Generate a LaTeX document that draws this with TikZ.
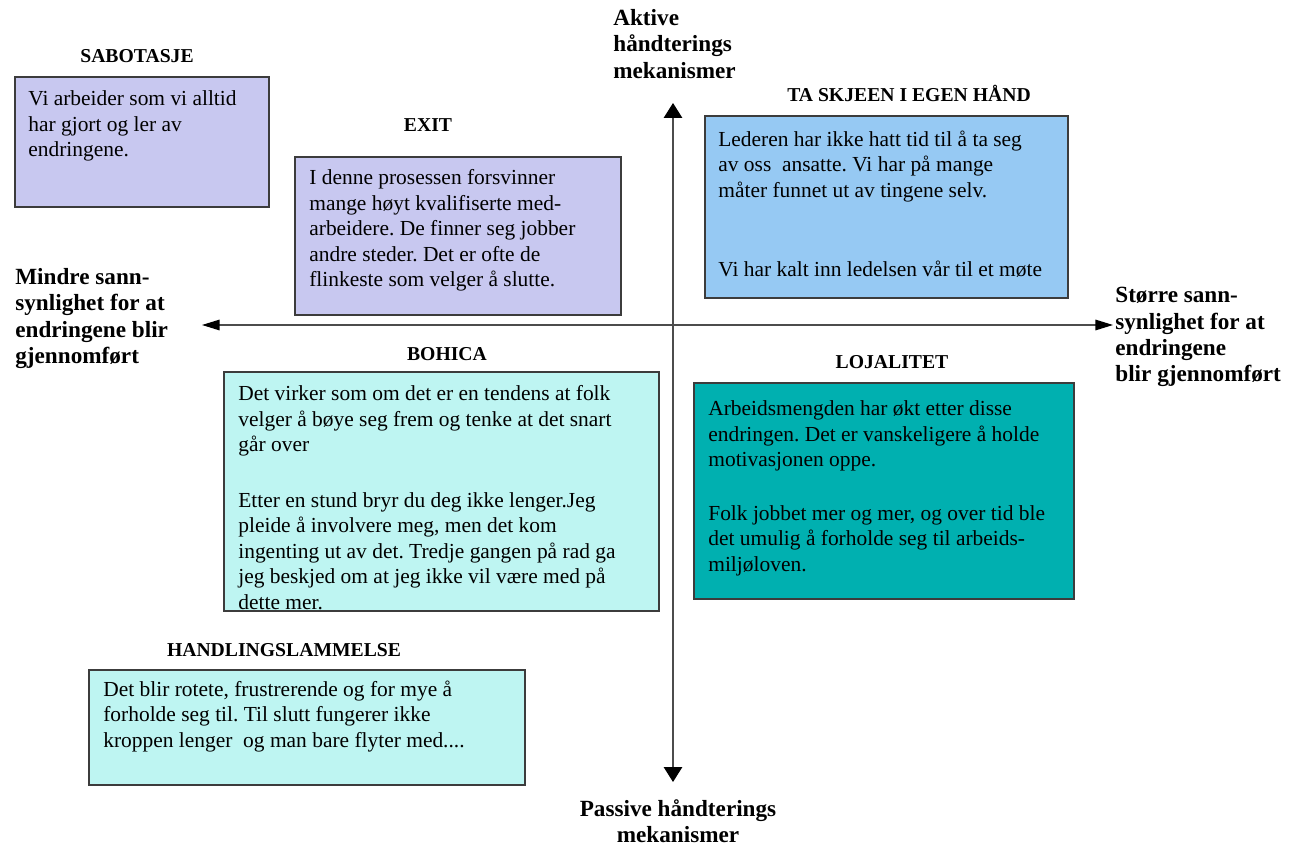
\documentclass[tikz,border=0pt]{standalone}
\usepackage{fontspec}
\setmainfont{Liberation Serif}
\usetikzlibrary{arrows.meta,positioning}

\definecolor{lavendel}{RGB}{200,200,240}
\definecolor{himmel}{RGB}{150,201,243}
\definecolor{lysturkis}{RGB}{190,245,242}
\definecolor{turkis}{RGB}{0,176,176}
\definecolor{ramme}{RGB}{60,60,60}

\frenchspacing

\begin{document}
\begin{tikzpicture}[x=0.02cm,y=-0.02cm,
    box/.style={draw=ramme,line width=0.9pt,anchor=north west,inner sep=0pt},
    txt/.style={anchor=north west,inner sep=0pt,align=left,
                font=\fontsize{12.2}{14.5}\selectfont},
    title/.style={anchor=base,inner sep=0pt,
                  font=\fontsize{11.2}{13}\selectfont\bfseries},
    axlabel/.style={inner sep=0pt,font=\fontsize{13.2}{15}\selectfont\bfseries},
    vaxis/.style={draw=black!70,line width=0.7pt,
                  {Triangle[length=8.5pt,width=10.5pt,color=black]}-{Triangle[length=8.5pt,width=10.5pt,color=black]}},
    haxis/.style={draw=black!70,line width=0.7pt,
                  {Triangle[length=10pt,width=6pt,color=black]}-{Triangle[length=10pt,width=6pt,color=black]}}]

  \useasboundingbox (0,0) rectangle (1298,847);

  % the six boxes
  \node[box,fill=lavendel,minimum width=5.08cm,minimum height=2.6cm]  (sab)  at (14,76)   {};
  \node[box,fill=lavendel,minimum width=6.52cm,minimum height=3.16cm] (exit) at (294,156)  {};
  \node[box,fill=himmel,minimum width=7.26cm,minimum height=3.64cm]   (ta)   at (704,115)  {};
  \node[box,fill=lysturkis,minimum width=8.7cm,minimum height=4.78cm] (boh)  at (223,371)  {};
  \node[box,fill=turkis,minimum width=7.6cm,minimum height=4.32cm]    (loj)  at (693,382)  {};
  \node[box,fill=lysturkis,minimum width=8.72cm,minimum height=2.3cm] (han)  at (88,669)   {};

  % headings
  \node[title] (sabT)  at (137,63)  {SABOTASJE};
  \node[title] (exitT) at (428,132) {EXIT};
  \node[title] (taT)   at (909,102) {TA SKJEEN I EGEN HÅND};
  \node[title] (bohT)  at (447,361) {BOHICA};
  \node[title] (lojT)  at (892,369) {LOJALITET};
  \node[title] (hanT)  at (284,656) {HANDLINGSLAMMELSE};

  % texts in the boxes
  \node[txt] (sabX) [below right=0.29cm and 0.28cm of sab.north west]
    {Vi arbeider som vi alltid\\har gjort og ler av\\endringene.};
  \node[txt] (exitX) [below right=0.27cm and 0.3cm of exit.north west]
    {I denne prosessen forsvinner\\mange høyt kvalifiserte med-\\arbeidere. De finner seg jobber\\
     andre steder. Det er ofte de\\flinkeste som velger å slutte.};
  \node[txt] (taX) [below right=0.31cm and 0.28cm of ta.north west]
    {Lederen har ikke hatt tid til å ta seg\\av oss\ \ ansatte. Vi har på mange\\
     måter funnet ut av tingene selv.\\[30.8pt]Vi har kalt inn ledelsen vår til et møte};
  \node[txt] (bohX) [below right=0.29cm and 0.3cm of boh.north west]
    {Det virker som om det er en tendens at folk\\velger å bøye seg frem og tenke at det snart\\
     går over\\[17pt]Etter en stund bryr du deg ikke lenger.Jeg\\pleide å involvere meg, men det kom\\
     ingenting ut av det. Tredje gangen på rad ga\\jeg beskjed om at jeg ikke vil være med på\\dette mer.};
  \node[txt] (lojX) [below right=0.37cm and 0.3cm of loj.north west]
    {Arbeidsmengden har økt etter disse\\endringen. Det er vanskeligere å holde\\
     motivasjonen oppe.\\[16pt]Folk jobbet mer og mer, og over tid ble\\
     det umulig å forholde seg til arbeids-\\miljøloven.};
  \node[txt] (hanX) [below right=0.23cm and 0.3cm of han.north west]
    {Det blir rotete, frustrerende og for mye å\\forholde seg til. Til slutt fungerer ikke\\
     kroppen lenger\ \ og man bare flyter med....};

  % axis labels
  \node[axlabel,anchor=north west,align=left] (akt) at (613,9)
    {Aktive\\håndterings\\mekanismer};
  \node[axlabel,anchor=north west,align=left] (mindre) at (15,268)
    {Mindre sann-\\synlighet for at\\endringene blir\\gjennomført};
  \node[axlabel,anchor=north west,align=left] (storre) at (1115,287)
    {Større sann-\\synlighet for at\\endringene\\blir gjennomført};
  \node[axlabel,anchor=north,align=center] (pas) at (678,799)
    {Passive håndterings\\mekanismer};

  % axes
  \coordinate (topp) at (673,103);
  \coordinate (bunn) at (673,782);
  \coordinate (venstre) at (202,325);
  \coordinate (hoyre) at (1113,325);

  \draw[vaxis] (bunn) -- (topp);
  \draw[haxis] (venstre) -- (hoyre);
\end{tikzpicture}
\end{document}
